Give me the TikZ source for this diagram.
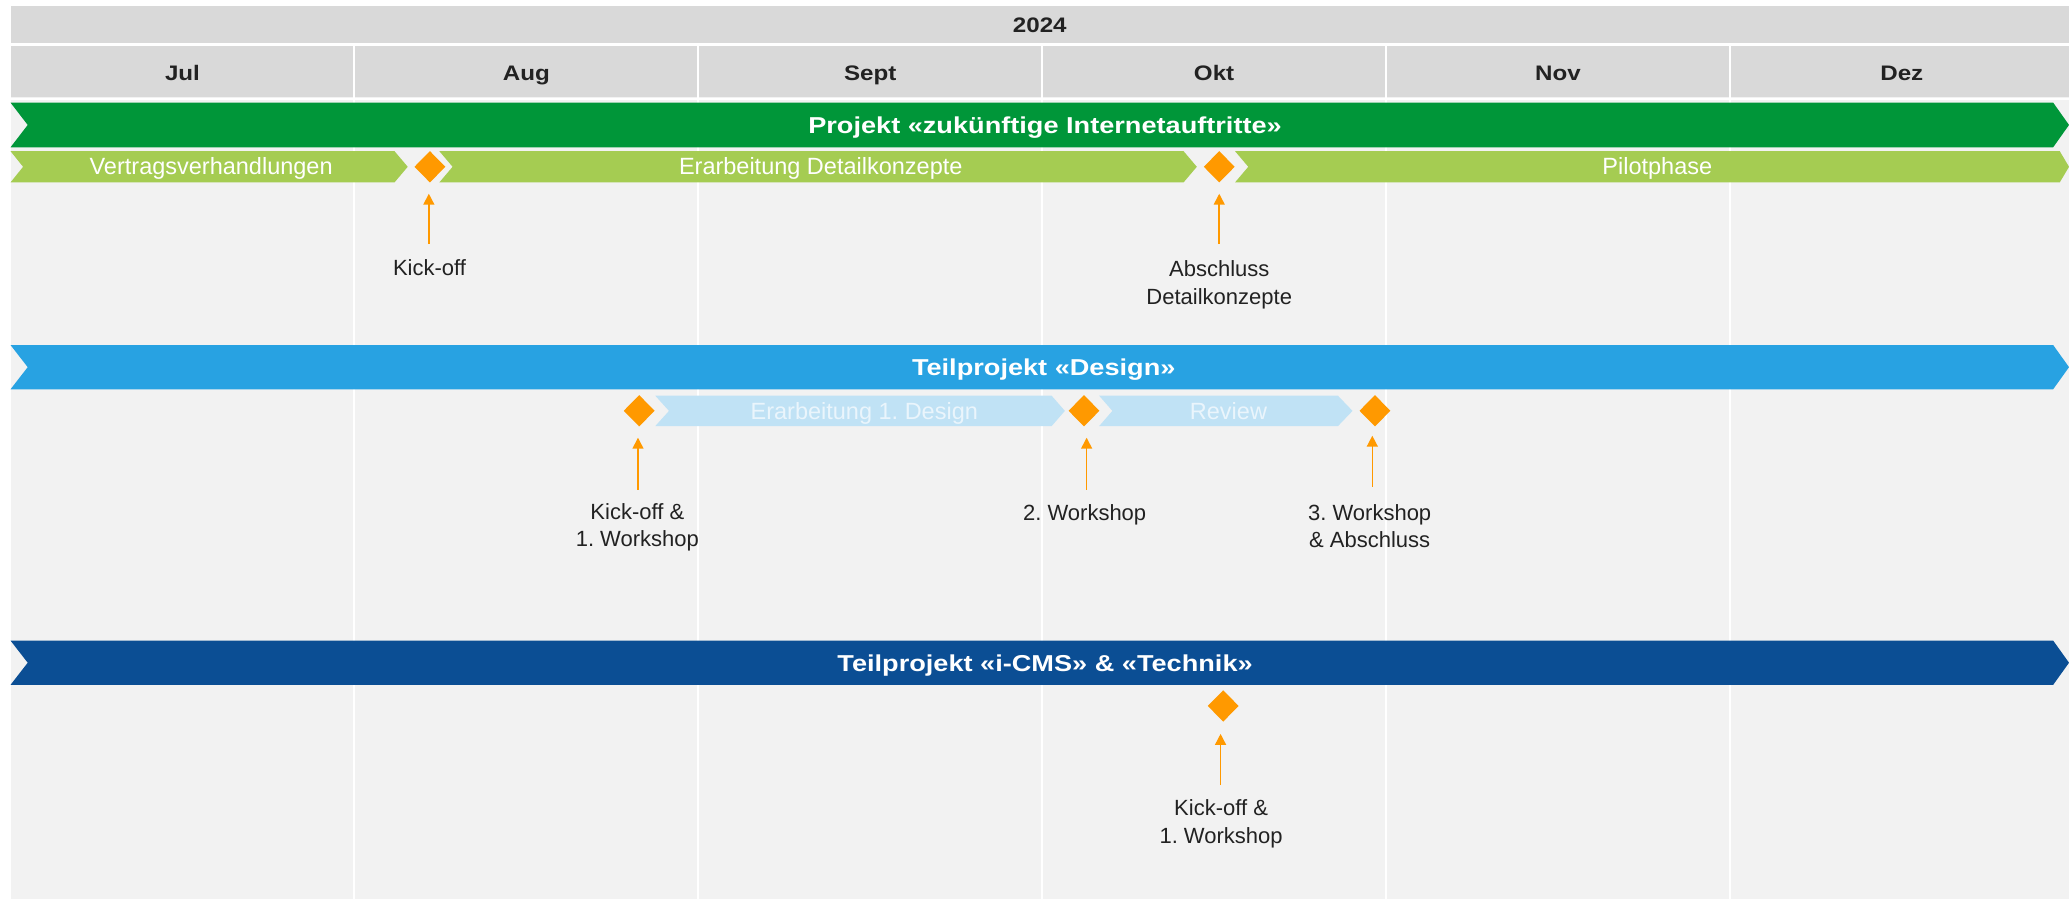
\documentclass[tikz,border=0pt]{standalone}
\usepackage{fontspec}
\setmainfont{Liberation Sans}
\newfontfamily\widefont[FakeStretch=1.18]{Liberation Sans}
\newfontfamily\monthfont[FakeStretch=1.15]{Liberation Sans}
\usetikzlibrary{arrows.meta,shapes.geometric}
\definecolor{hdrgray}{HTML}{D9D9D9}
\definecolor{bggray}{HTML}{F2F2F2}
\definecolor{pgreen}{HTML}{009639}
\definecolor{lgreen}{HTML}{A5CC52}
\definecolor{pblue}{HTML}{28A2E2}
\definecolor{lblue}{HTML}{C0E2F5}
\definecolor{dblue}{HTML}{0B4E94}
\definecolor{msorange}{HTML}{FF9900}
\definecolor{txtdark}{HTML}{222222}
\definecolor{lbltxt}{HTML}{EAF5FC}
\frenchspacing
\begin{document}
\begin{tikzpicture}[x=1.3195pt,y=-1.3195pt,
  monthlbl/.style={font=\monthfont\bfseries\fontsize{21}{25}\selectfont, text=txtdark, inner sep=0pt, anchor=base},
  titlelbl/.style={font=\widefont\bfseries\fontsize{23}{27}\selectfont, text=white, inner sep=0pt, anchor=base},
  barlbl/.style={font=\fontsize{23.5}{28}\selectfont, inner sep=0pt, anchor=base},
  msnote/.style={font=\fontsize{22}{27.5}\selectfont, text=txtdark, align=center, inner sep=0pt},
  milestone/.style={diamond, fill=msorange, inner sep=0pt, minimum width=31pt, minimum height=31.5pt},
  msarrow/.style={draw=msorange, line width=1.5pt, -{Triangle[width=11pt,length=11pt]}, shorten >=11pt},
  sep/.style={draw=white, line width=2pt}
]
\useasboundingbox (0,0) rectangle (1568,681.3);
\fill[white] (0,0) rectangle (1568,681.3);
% background
\fill[bggray] (8,4.5) rectangle (1568,681.3);
% header rows
\fill[hdrgray] (8,4.5) rectangle (1568,32.8);
\fill[hdrgray] (8,34.9) rectangle (1568,73.8);
\draw[white, line width=2.5pt] (8,33.85) -- (1568,33.85);
\draw[white, line width=2.5pt] (8,74.9) -- (1568,74.9);
% month separators
\foreach \i in {1,...,5} {
  \draw[sep] ({8+260.6*\i},34.9) -- ({8+260.6*\i},681.3);
}
\node[monthlbl] (y2024) at (788,24.7) {2024};
\node[monthlbl] (mjul) at (138.3,61.2) {Jul};
\node[monthlbl] (maug) at (398.9,61.2) {Aug};
\node[monthlbl] (msep) at (659.5,61.2) {Sept};
\node[monthlbl] (mokt) at (920.1,61.2) {Okt};
\node[monthlbl] (mnov) at (1180.7,61.2) {Nov};
\node[monthlbl] (mdez) at (1441.3,61.2) {Dez};

% ---------- Projekt (green) ----------
\fill[pgreen] (8,77.8) -- (1556,77.8) -- (1568,94.7) -- (1556,111.6) -- (8,111.6) -- (21,94.7) -- cycle;
\node[titlelbl] (tgreen) at (792,101) {Projekt «zukünftige Internetauftritte»};
\fill[lgreen] (8,114.6) -- (299,114.6) -- (309,126.4) -- (299,138.2) -- (8,138.2) -- (17.5,126.4) -- cycle;
\fill[lgreen] (333,114.6) -- (897,114.6) -- (907,126.4) -- (897,138.2) -- (333,138.2) -- (343,126.4) -- cycle;
\fill[lgreen] (936,114.6) -- (1561,114.6) -- (1568,126.4) -- (1561,138.2) -- (936,138.2) -- (946,126.4) -- cycle;
\node[barlbl, text=white] (g1) at (160,132.6) {Vertragsverhandlungen};
\node[barlbl, text=white] (g2) at (622,132.6) {Erarbeitung Detailkonzepte};
\node[barlbl, text=white] (g3) at (1256,132.6) {Pilotphase};
\node[milestone] (mg1) at (325.8,126.4) {};
\node[milestone] (mg2) at (924,126.4) {};
\node[msnote] (ng1) at (325.5,203) {Kick-off};
\node[msnote] (ng2) at (924,216) {Abschluss\\Detailkonzepte};
\coordinate (ag1) at (325,185);
\coordinate (ag2) at (924,185);
\draw[msarrow] (ag1) -- (ag1 |- mg1.south);
\draw[msarrow] (ag2) -- (ag2 |- mg2.south);

% ---------- Teilprojekt Design (blue) ----------
\fill[pblue] (8,261.5) -- (1556,261.5) -- (1568,278.25) -- (1556,295) -- (8,295) -- (21,278.25) -- cycle;
\node[titlelbl] (tblue) at (791,284.6) {Teilprojekt «Design»};
\fill[lblue] (496.6,299.9) -- (797,299.9) -- (807,311.4) -- (797,322.9) -- (496.6,322.9) -- (507,311.4) -- cycle;
\fill[lblue] (833,299.9) -- (1014,299.9) -- (1025,311.4) -- (1014,322.9) -- (833,322.9) -- (843,311.4) -- cycle;
\node[barlbl, text=lbltxt] (b1) at (655,317.6) {Erarbeitung 1. Design};
\node[barlbl, text=lbltxt] (b2) at (931,317.6) {Review};
\node[milestone] (mb1) at (484.4,311.3) {};
\node[milestone] (mb2) at (821.5,311.3) {};
\node[milestone] (mb3) at (1042,311.3) {};
\node[msnote] (nb1) at (483,399.5) {Kick-off \&\\1. Workshop};
\node[msnote] (nb2) at (822,390) {2. Workshop};
\node[msnote] (nb3) at (1038,398.7) {3. Workshop\\\& Abschluss};
\coordinate (ab1) at (483.5,371);
\coordinate (ab2) at (823.5,371);
\coordinate (ab3) at (1040,369);
\draw[msarrow] (ab1) -- (ab1 |- mb1.south);
\draw[msarrow] (ab2) -- (ab2 |- mb2.south);
\draw[msarrow, shorten >=9pt] (ab3) -- (ab3 |- mb3.south);

% ---------- Teilprojekt i-CMS & Technik (dark blue) ----------
\fill[dblue] (8,485.5) -- (1556,485.5) -- (1568,502.25) -- (1556,519) -- (8,519) -- (21,502.25) -- cycle;
\node[titlelbl] (tdark) at (792,508.6) {Teilprojekt «i-CMS» \& «Technik»};
\node[milestone] (md1) at (927,535) {};
\node[msnote] (nd1) at (925.4,624.5) {Kick-off \&\\1. Workshop};
\coordinate (ad1) at (925,595);
\draw[msarrow, shorten >=12pt] (ad1) -- (ad1 |- md1.south);
\end{tikzpicture}
\end{document}
